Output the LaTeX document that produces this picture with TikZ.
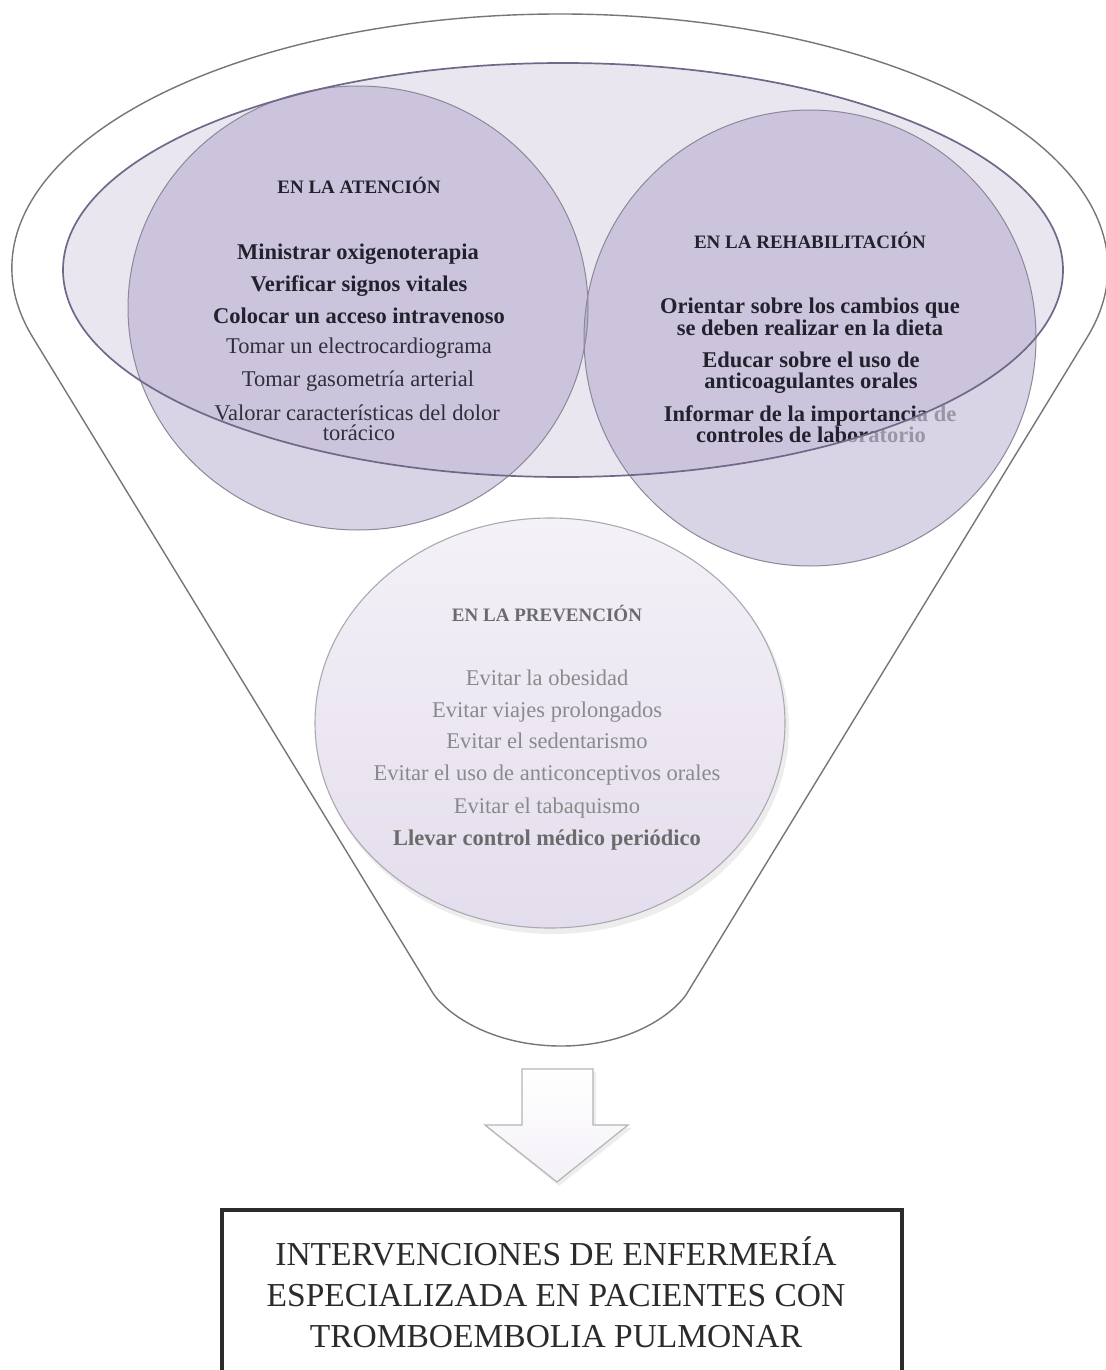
\documentclass[tikz,border=0pt]{standalone}
\usepackage{fontspec}
\setmainfont{Liberation Serif}
\definecolor{funnelline}{HTML}{767676}
\definecolor{bigfill}{HTML}{EAE6F0}
\definecolor{bigline}{HTML}{6F6888}
\definecolor{circfill}{HTML}{A99DC5}
\definecolor{circout}{HTML}{DAD4E6}
\definecolor{circline}{HTML}{8C8899}
\definecolor{txtdark}{HTML}{22222E}
\definecolor{txtmid}{HTML}{2F2F3A}
\definecolor{txtgray}{HTML}{8A8A8A}
\definecolor{txtgraybold}{HTML}{6B6B6B}
\definecolor{prevtop}{HTML}{F4F1F7}
\definecolor{prevbot}{HTML}{E4DDED}
\definecolor{prevline}{HTML}{ABA9B2}
\definecolor{arrowline}{HTML}{B5B5B5}
\definecolor{boxline}{HTML}{2B2B2B}
\begin{document}
\begin{tikzpicture}[x=0.5pt,y=-0.5pt,
  item/.style={anchor=base,inner sep=0pt,font=\fontsize{11.25}{13}\selectfont,text=txtmid},
  bitem/.style={anchor=base,inner sep=0pt,font=\fontsize{11.25}{13}\selectfont\bfseries,text=txtdark},
  head/.style={anchor=base,inner sep=0pt,font=\fontsize{9.5}{11}\selectfont\bfseries,text=txtdark},
  pitem/.style={anchor=base,inner sep=0pt,font=\fontsize{11.25}{13}\selectfont,text=txtgray},
  pbold/.style={anchor=base,inner sep=0pt,font=\fontsize{11.25}{13}\selectfont\bfseries,text=txtgraybold},
  phead/.style={anchor=base,inner sep=0pt,font=\fontsize{9.5}{11}\selectfont\bfseries,text=txtgraybold},
  boxtext/.style={anchor=base,inner sep=0pt,font=\fontsize{16.75}{20}\selectfont,text=boxline},
  funnelstyle/.style={draw=funnelline,line width=0.7pt,fill=white},
  circstyle/.style={fill=circfill,fill opacity=0.46},
  circdraw/.style={draw=circline,line width=0.5pt},
  bigdraw/.style={draw=bigline,line width=0.85pt},
  prevstyle/.style={draw=prevline,line width=0.55pt,top color=prevtop,bottom color=prevbot},
  arrowstyle/.style={draw=arrowline,line width=0.6pt,top color=white,bottom color=prevtop},
  boxstyle/.style={draw=boxline,line width=2.2pt}
]
\useasboundingbox (0,0) rectangle (1105,1370);
\fill[white] (0,0) rectangle (1105,1370);

% funnel outline
\draw[funnelstyle] (32.7,337.2) arc[start angle=195.8,end angle=-15.8,x radius=274pt,y radius=127pt]
  -- (689,990) .. controls (677,1012) and (632,1046) .. (561,1046)
  .. controls (490,1046) and (443,1012) .. (431,990) -- cycle;

% big ellipse fill
\fill[bigfill] (563,270) ellipse[x radius=250pt,y radius=103.5pt];

% circles fill
\fill[circstyle] (358,308) ellipse[x radius=115pt,y radius=111pt];
\fill[circstyle] (810,338) ellipse[x radius=113pt,y radius=114pt];

% left circle text
\node[head]  (la0) at (359,193) {EN LA ATENCIÓN};
\node[bitem] (la1) at (358,259) {Ministrar oxigenoterapia};
\node[bitem] (la2) at (359,291) {Verificar signos vitales};
\node[bitem] (la3) at (359,323) {Colocar un acceso intravenoso};
\node[item]  (la4) at (359,353) {Tomar un electrocardiograma};
\node[item]  (la5) at (358,386) {Tomar gasometría arterial};
\node[item]  (la6) at (357,420) {Valorar características del dolor};
\node[item]  (la7) at (359,440) {torácico};

% right circle text
\node[head]  (ra0) at (810,248) {EN LA REHABILITACIÓN};
\node[bitem] (ra1) at (810,313) {Orientar sobre los cambios que};
\node[bitem] (ra2) at (810,335) {se deben realizar en la dieta};
\node[bitem] (ra3) at (811,367) {Educar sobre el uso de};
\node[bitem] (ra4) at (811,388) {anticoagulantes orales};
\node[bitem] (ra5) at (810,421) {Informar de la importancia de};
\node[bitem] (ra6) at (811,442) {controles de laboratorio};

% lighter part of circles outside the big ellipse
\begin{scope}
  \clip (358,308) ellipse[x radius=115pt,y radius=111pt] (810,338) ellipse[x radius=113pt,y radius=114pt];
  \fill[circout,opacity=0.65,even odd rule] (0,0) rectangle (1105,1370) (563,270) ellipse[x radius=250pt,y radius=103.5pt];
\end{scope}

% outlines
\draw[circdraw] (358,308) ellipse[x radius=115pt,y radius=111pt];
\draw[circdraw] (810,338) ellipse[x radius=113pt,y radius=114pt];
\draw[bigdraw] (563,270) ellipse[x radius=250pt,y radius=103.5pt];

% prevention circle
\fill[black,opacity=0.07] (553,728) ellipse[x radius=118pt,y radius=103pt];
\path[prevstyle] (550,723) ellipse[x radius=117.5pt,y radius=102.5pt];

\node[phead] (pa0) at (547,621) {EN LA PREVENCIÓN};
\node[pitem] (pa1) at (547,685) {Evitar la obesidad};
\node[pitem] (pa2) at (547,717) {Evitar viajes prolongados};
\node[pitem] (pa3) at (547,748) {Evitar el sedentarismo};
\node[pitem] (pa4) at (547,780) {Evitar el uso de anticonceptivos orales};
\node[pitem] (pa5) at (547,813) {Evitar el tabaquismo};
\node[pbold] (pa6) at (547,845) {Llevar control médico periódico};

% arrow
\fill[black,opacity=0.07] (524,1072) -- (596,1072) -- (596,1128) -- (632,1128) -- (559,1186) -- (487,1128) -- (524,1128) -- cycle;
\path[arrowstyle] (522,1069) -- (593,1069) -- (593,1125) -- (628,1125) -- (557,1182) -- (485,1125) -- (522,1125) -- cycle;

% result box
\draw[boxstyle] (222,1390) -- (222,1210) -- (902,1210) -- (902,1390);
\node[boxtext] (bt1) at (556,1265) {INTERVENCIONES DE ENFERMERÍA};
\node[boxtext] (bt2) at (556,1306) {ESPECIALIZADA EN PACIENTES CON};
\node[boxtext] (bt3) at (556,1347) {TROMBOEMBOLIA PULMONAR};
\end{tikzpicture}
\end{document}
